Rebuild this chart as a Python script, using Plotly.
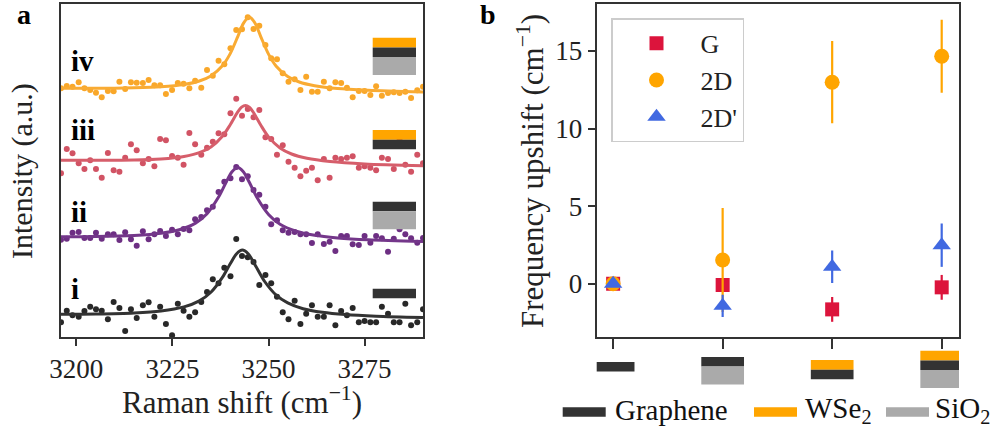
import plotly.graph_objects as go

W, H = 992, 432
FONT = "Liberation Serif"

# ---------------- Panel a data (Raman spectra, arbitrary units incl. offsets) ----------------
raman_shift = [3196.0, 3197.5, 3199.0, 3200.6, 3202.1, 3203.6, 3205.1, 3206.6, 3208.2, 3209.7,
               3211.2, 3212.7, 3214.2, 3215.7, 3217.3, 3218.8, 3220.3, 3221.8, 3223.3, 3224.9,
               3226.4, 3227.9, 3229.4, 3230.9, 3232.5, 3234.0, 3235.5, 3237.0, 3238.5, 3240.1,
               3241.6, 3243.1, 3244.6, 3246.1, 3247.6, 3249.2, 3250.7, 3252.2, 3253.7, 3255.2,
               3256.8, 3258.3, 3259.8, 3261.3, 3262.8, 3264.4, 3265.9, 3267.4, 3268.9, 3270.4,
               3271.9, 3273.5, 3275.0, 3276.5, 3278.0, 3279.5, 3281.1, 3282.6, 3284.1, 3285.6,
               3287.1, 3288.7, 3290.2]

int_i = [14.7, 26.3, 21.7, 20.3, 26.0, 30.3, 27.7, 26.3, 17.7, 35.0,
         29.0, 6.0, 27.7, 19.0, 31.7, 34.7, 20.3, 30.3, 13.0, 1.7,
         33.3, 26.3, 20.3, 24.7, 35.0, 45.0, 57.7, 53.7, 69.3, 60.7,
         98.0, 81.0, 79.7, 75.0, 52.0, 62.0, 53.7, 40.3, 24.7, 17.7,
         36.3, 13.0, 23.3, 31.7, 20.3, 20.3, 31.7, 11.7, 26.0, 21.7,
         29.0, 14.7, 16.0, 14.7, 14.7, 30.3, 23.3, 14.7, 14.7, 33.3,
         11.7, 14.7, 27.7]

int_ii = [97.3, 98.3, 104.3, 105.0, 99.0, 99.0, 104.3, 98.3, 102.7, 102.7,
          97.0, 104.7, 97.7, 91.3, 105.7, 97.7, 102.7, 106.0, 101.0, 107.3,
          102.7, 108.0, 106.7, 117.7, 120.0, 126.7, 130.3, 145.0, 155.3, 158.7,
          170.0, 157.7, 160.7, 147.0, 142.3, 130.3, 112.7, 116.7, 106.7, 104.3,
          105.0, 102.7, 102.7, 94.0, 102.7, 93.0, 95.3, 86.0, 101.0, 101.0,
          92.7, 92.0, 101.0, 94.3, 101.0, 98.7, 85.3, 98.3, 107.7, 102.7,
          98.7, 94.3, 99.0]

int_iii = [163.7, 188.0, 183.7, 173.7, 168.0, 176.7, 168.0, 159.3, 184.0, 166.7,
           165.3, 179.3, 192.7, 186.7, 173.7, 178.0, 170.7, 198.0, 196.7, 181.0,
           179.3, 172.3, 204.0, 192.7, 182.3, 189.3, 195.3, 203.7, 202.7, 223.7,
           238.3, 221.3, 228.0, 219.7, 227.0, 199.7, 198.0, 182.3, 191.7, 175.3,
           169.3, 160.7, 166.3, 169.3, 156.7, 178.0, 159.3, 179.3, 178.0, 179.3,
           180.7, 169.3, 170.7, 169.3, 166.7, 179.3, 178.0, 168.0, 196.7, 172.3,
           165.3, 182.3, 173.7]

int_iv = [248.7, 251.0, 250.3, 254.7, 248.7, 247.0, 244.3, 239.7, 246.0, 245.7,
          255.3, 248.0, 254.7, 254.3, 254.0, 257.0, 251.7, 251.7, 243.0, 247.0,
          254.0, 253.3, 248.7, 256.3, 249.3, 267.0, 261.3, 276.3, 272.7, 288.7,
          307.0, 307.7, 319.7, 308.0, 311.3, 292.0, 278.7, 277.7, 263.7, 255.3,
          257.7, 247.0, 260.3, 245.3, 245.3, 255.3, 248.7, 254.7, 254.0, 249.3,
          239.7, 246.0, 246.0, 242.0, 250.7, 241.3, 244.0, 244.7, 244.0, 245.3,
          239.0, 246.7, 250.3]

# fitted curves
fit_x_i = [3196, 3205, 3215, 3222, 3228, 3232, 3235, 3238, 3240, 3241.7, 3243.2,
           3244.7, 3246.5, 3249, 3252, 3255, 3259, 3264, 3270, 3278, 3290.2]
fit_y_i = [22.8, 23.1, 24.1, 26.0, 30.1, 36.1, 44.7, 59.6, 73.0, 83.3, 87.0,
           83.3, 72.1, 55.5, 41.9, 34.1, 28.3, 24.7, 22.4, 20.8, 19.5]

fit_x_ii = [3196, 3205, 3215, 3222, 3227, 3231, 3234, 3237, 3239, 3240.5, 3242,
            3243.5, 3245, 3247, 3250, 3253, 3257, 3262, 3268, 3276, 3290.2]
fit_y_ii = [100.2, 100.4, 101.5, 103.7, 107.5, 113.9, 123.3, 139.9, 155.0, 165.2, 169.4,
            165.0, 154.7, 139.4, 122.5, 112.8, 106.0, 101.7, 99.1, 97.2, 95.4]

fit_x_iii = [3196, 3205, 3215, 3222, 3228, 3232, 3235, 3238, 3240, 3242, 3243,
             3244, 3245, 3246, 3248, 3250, 3253, 3256, 3260, 3266, 3275, 3290.2]
fit_y_iii = [176.8, 176.7, 176.9, 178.0, 180.5, 184.3, 189.9, 200.7, 212.0, 225.1, 229.9,
             231.6, 229.8, 225.0, 211.8, 200.1, 189.0, 183.0, 178.7, 175.5, 173.1, 171.2]

fit_x_iv = [3196, 3205, 3215, 3222, 3228, 3232, 3235, 3238, 3240, 3242, 3243.5,
            3245, 3246.5, 3248, 3250, 3252, 3255, 3258, 3262, 3268, 3276, 3290.2]
fit_y_iv = [248.8, 248.7, 249.2, 250.2, 252.5, 256.0, 261.1, 271.2, 283.1, 300.4, 313.9,
            320.0, 313.8, 300.2, 282.9, 270.8, 260.5, 255.0, 251.3, 248.4, 246.7, 244.9]

spec_labels = ["i", "ii", "iii", "iv"]
pt_colors = ["#1c1c1c", "#65247c", "#cf4a5c", "#f9a21e"]
ln_colors = ["#333333", "#74378a", "#d65e6b", "#f9ab33"]

# ---------------- Panel b data ----------------
configs = [0, 1, 2, 3]
g_shift = [0.0, -0.08, -1.65, -0.23]
g_err = [0.0, 0.4, 0.8, 0.8]
d2_shift = [0.0, 1.53, 12.99, 14.66]
d2_err = [0.0, 3.35, 2.65, 2.35]
dp_shift = [0.0, -1.42, 1.1, 2.49]
dp_err = [0.0, 0.72, 1.05, 1.4]

# layer stacks (top to bottom) for each configuration
stack_b = [["graphene"], ["graphene", "sio2"], ["wse2", "graphene"], ["wse2", "graphene", "sio2"]]
stack_a = [["graphene"], ["graphene", "sio2"], ["wse2", "graphene"], ["wse2", "graphene", "sio2"]]
layer_color = {"graphene": "#333333", "wse2": "#ffa500", "sio2": "#aaaaaa"}
layer_h = {"graphene": 9.5, "wse2": 9.8, "sio2": 18.0}
layer_names = ["Graphene", "WSe<sub>2</sub>", "SiO<sub>2</sub>"]


def px(x):
    return x / W


def py(y):
    return (H - y) / H


fig = go.Figure()

spectra = [int_i, int_ii, int_iii, int_iv]
fits = [(fit_x_i, fit_y_i), (fit_x_ii, fit_y_ii), (fit_x_iii, fit_y_iii), (fit_x_iv, fit_y_iv)]
for k in range(4):
    fig.add_trace(go.Scatter(x=raman_shift, y=spectra[k], mode="markers",
                             marker=dict(size=6, color=pt_colors[k], opacity=0.95),
                             showlegend=False, xaxis="x", yaxis="y", cliponaxis=True))
    fig.add_trace(go.Scatter(x=fits[k][0], y=fits[k][1], mode="lines",
                             line=dict(color=ln_colors[k], width=3, shape="spline", smoothing=0.8),
                             showlegend=False, xaxis="x", yaxis="y"))

# panel b
err_style = dict(type="data", visible=True, thickness=2.2, width=0)
fig.add_trace(go.Scatter(x=configs, y=g_shift, mode="markers", name="G",
                         marker=dict(symbol="square", size=14, color="crimson"),
                         error_y=dict(array=g_err, color="crimson", **err_style),
                         xaxis="x2", yaxis="y2"))
fig.add_trace(go.Scatter(x=configs, y=d2_shift, mode="markers", name="2D",
                         marker=dict(symbol="circle", size=15, color="orange"),
                         error_y=dict(array=d2_err, color="orange", **err_style),
                         xaxis="x2", yaxis="y2"))
fig.add_trace(go.Scatter(x=configs, y=dp_shift, mode="markers", name="2D'",
                         marker=dict(symbol="triangle-up", size=16, color="royalblue"),
                         error_y=dict(array=dp_err, color="royalblue", **err_style),
                         xaxis="x2", yaxis="y2"))

shapes = []
# icons in panel a (pixel positions)
icon_a_top = [288.7, 201.7, 130.0, 37.7]
for k in range(4):
    y0 = icon_a_top[k]
    for layer in stack_a[k]:
        h = layer_h[layer]
        shapes.append(dict(type="rect", xref="paper", yref="paper",
                           x0=px(372.7), x1=px(416.0), y0=py(y0 + h), y1=py(y0),
                           fillcolor=layer_color[layer], line=dict(width=0), layer="above"))
        y0 += h

# icons under panel b x axis
icon_b_top = [362.0, 357.0, 360.0, 350.7]
for k in range(4):
    y0 = icon_b_top[k]
    for layer in stack_b[k]:
        h = layer_h[layer]
        shapes.append(dict(type="rect", xref="x2", yref="paper",
                           x0=configs[k] - 0.195, x1=configs[k] + 0.195, y0=py(y0 + h), y1=py(y0),
                           fillcolor=layer_color[layer], line=dict(width=0), layer="above"))
        y0 += h

# bottom material legend
leg_sw = [562.7, 754.0, 886.0]
leg_tx = [613.0, 803.0, 933.0]
annotations = []
for name, key, sx, tx in zip(layer_names, ["graphene", "wse2", "sio2"], leg_sw, leg_tx):
    shapes.append(dict(type="rect", xref="paper", yref="paper",
                       x0=px(sx), x1=px(sx + 43), y0=py(416.7), y1=py(407.3),
                       fillcolor=layer_color[key], line=dict(width=0)))
    annotations.append(dict(text=name, x=px(tx), y=py(410), xref="paper", yref="paper",
                            xanchor="left", yanchor="middle", showarrow=False,
                            font=dict(family=FONT, size=29, color="#111111")))

# spectrum labels
lab_y = [289, 212, 130, 61]
for k in range(4):
    annotations.append(dict(text="<b>%s</b>" % spec_labels[k], x=px(69), y=py(lab_y[k]),
                            xref="paper", yref="paper", xanchor="left", yanchor="middle",
                            showarrow=False, font=dict(family=FONT, size=29, color="#000000")))

# panel letters
annotations.append(dict(text="<b>a</b>", x=px(15), y=py(14), xref="paper", yref="paper",
                        xanchor="left", yanchor="middle", showarrow=False,
                        font=dict(family=FONT, size=28, color="#000000")))
annotations.append(dict(text="<b>b</b>", x=px(478), y=py(14), xref="paper", yref="paper",
                        xanchor="left", yanchor="middle", showarrow=False,
                        font=dict(family=FONT, size=28, color="#000000")))

# axis titles
annotations.append(dict(text="Raman shift (cm<sup>\u22121</sup>)", x=px(242), y=py(400),
                        xref="paper", yref="paper", xanchor="center", yanchor="middle",
                        showarrow=False, font=dict(family=FONT, size=31, color="#222222")))
annotations.append(dict(text="Intensity (a.u.)", x=px(22), y=py(171), textangle=-90,
                        xref="paper", yref="paper", xanchor="center", yanchor="middle",
                        showarrow=False, font=dict(family=FONT, size=30, color="#222222")))
annotations.append(dict(text="Frequency upshift (cm<sup>\u22121</sup>)", x=px(530), y=py(171),
                        textangle=-90, xref="paper", yref="paper", xanchor="center",
                        yanchor="middle", showarrow=False,
                        font=dict(family=FONT, size=31, color="#222222")))

axis_common = dict(showgrid=False, zeroline=False, showline=True, mirror=True, automargin=False,
                   linecolor="#333333", linewidth=2, tickwidth=2,
                   tickcolor="#333333", tickfont=dict(family=FONT, size=27, color="#222222"))

fig.update_layout(
    width=W, height=H,
    margin=dict(l=0, r=0, t=0, b=0, autoexpand=False),
    paper_bgcolor="white", plot_bgcolor="white",
    xaxis=dict(domain=[px(61), px(423)], range=[3196.0, 3290.2], anchor="y", ticks="outside",
               tickvals=[3200, 3225, 3250, 3275], ticklen=7, **axis_common),
    yaxis=dict(domain=[py(337), py(4)], range=[0, 333], anchor="x",
               showticklabels=False, ticks="", **axis_common),
    xaxis2=dict(domain=[px(596.7), px(959)], range=[-0.15, 3.158], anchor="y2", ticks="outside",
                tickvals=configs, showticklabels=False, ticklen=10, **axis_common),
    yaxis2=dict(domain=[py(337), py(4)], range=[-3.43, 18.03], anchor="x2", ticks="outside",
                tickvals=[0, 5, 10, 15], ticklen=7, **axis_common),
    legend=dict(x=px(611), y=py(18.3), xanchor="left", yanchor="top",
                bgcolor="white", bordercolor="#cccccc", borderwidth=1.5,
                font=dict(family=FONT, size=26, color="#222222"),
                itemwidth=78, tracegroupgap=0),
    shapes=shapes,
    annotations=annotations,
    font=dict(family=FONT),
)

fig.write_html("out.html", config={"displayModeBar": False},
               post_script="document.body.style.margin='0';document.body.style.overflow='hidden';")
